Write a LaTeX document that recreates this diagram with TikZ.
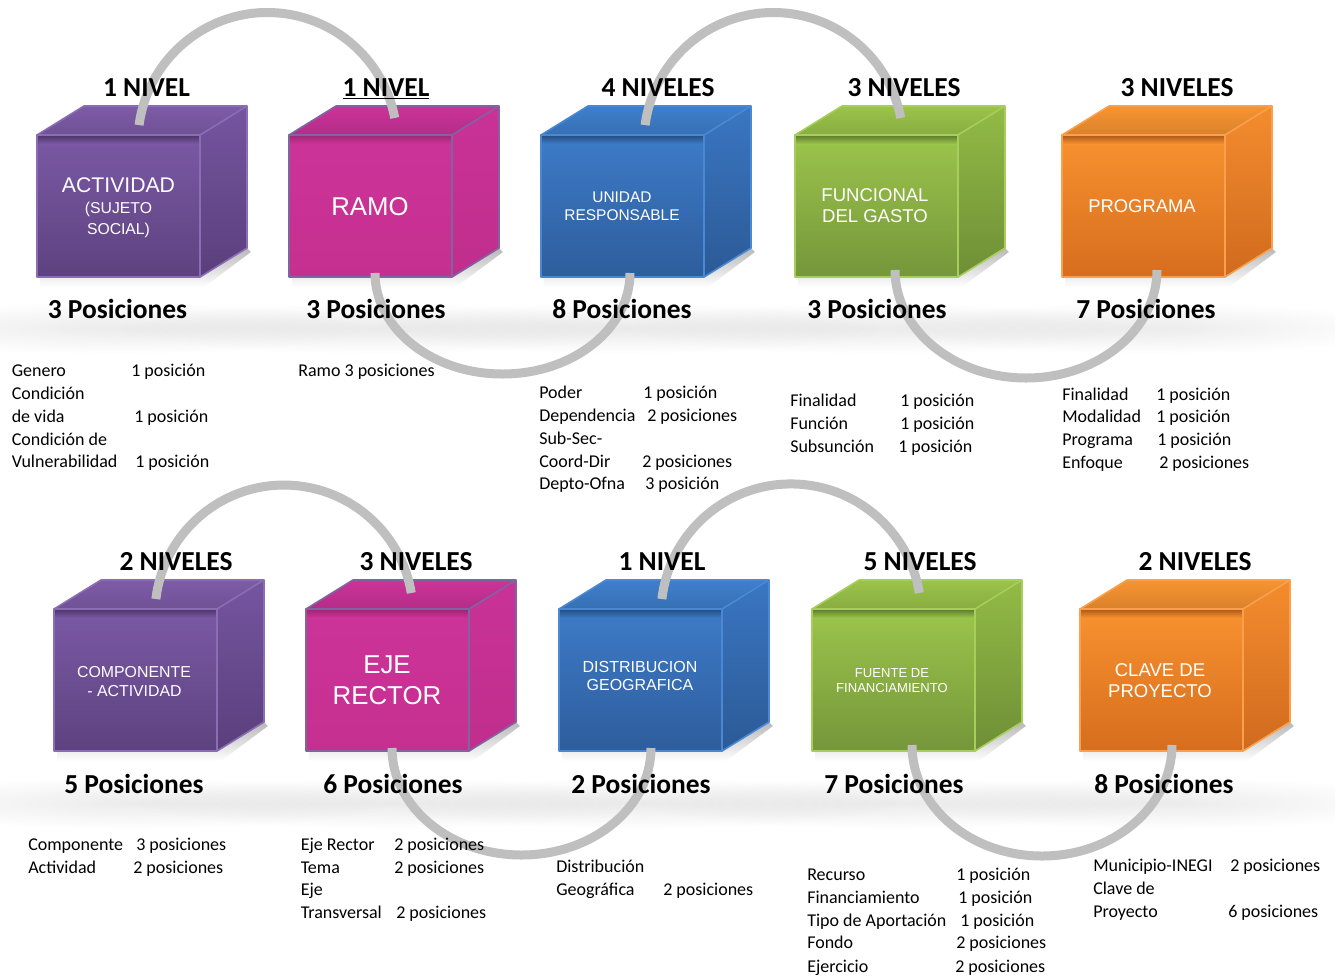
\documentclass[tikz,border=0pt]{standalone}
\usepackage{fontspec}
\setmainfont{Carlito}
\newfontfamily\arialf{Liberation Sans}
\usetikzlibrary{fadings}
\definecolor{linkgray}{HTML}{BFBFBF}
% purple
\definecolor{puT}{HTML}{7E5CA8}\definecolor{puF1}{HTML}{7B59A5}\definecolor{puF2}{HTML}{5D427F}
\definecolor{puS1}{HTML}{7555A0}\definecolor{puS2}{HTML}{5A3F7C}\definecolor{puE}{HTML}{8B6DB5}
% magenta
\definecolor{maT}{HTML}{CC3399}\definecolor{maF1}{HTML}{CD3399}\definecolor{maF2}{HTML}{C5308F}
\definecolor{maS1}{HTML}{C93297}\definecolor{maS2}{HTML}{C02E8C}\definecolor{maE}{HTML}{8064A2}
% blue
\definecolor{blT}{HTML}{3E7FCC}\definecolor{blF1}{HTML}{3D7BC8}\definecolor{blF2}{HTML}{2E5D9C}
\definecolor{blS1}{HTML}{3A76C2}\definecolor{blS2}{HTML}{2C5A96}\definecolor{blE}{HTML}{4A88D4}
% green
\definecolor{grT}{HTML}{9BC44A}\definecolor{grF1}{HTML}{9CC54C}\definecolor{grF2}{HTML}{75963A}
\definecolor{grS1}{HTML}{92BB46}\definecolor{grS2}{HTML}{6F8E36}\definecolor{grE}{HTML}{A6CE5A}
% orange
\definecolor{orT}{HTML}{F79431}\definecolor{orF1}{HTML}{F8922F}\definecolor{orF2}{HTML}{D66D1E}
\definecolor{orS1}{HTML}{F48C2E}\definecolor{orS2}{HTML}{D06A1E}\definecolor{orE}{HTML}{FAA04C}
\tikzfading[name=glowfade, inner color=transparent!0, outer color=transparent!100]
% cube: #1 = x of front-left, #2 = y (down) of front-top, #3 = colour prefix
\newcommand\mycube[3]{%
  \fill[black,opacity=.28,path fading=south] (#1+3,-#2-142) -- (#1+163,-#2-142) -- (#1+210,-#2-113)
     -- (#1+214,-#2-117) -- (#1+167,-#2-152) -- (#1+3,-#2-152) -- cycle;
  \shade[top color=#3F1,bottom color=#3F2] (#1,-#2) rectangle (#1+163,-#2-142);
  \shade[top color=#3F2!80!black,bottom color=#3F1] (#1,-#2) rectangle (#1+163,-#2-9);
  \shade[top color=#3S1,bottom color=#3S2] (#1+163,-#2) -- (#1+210,-#2+29) -- (#1+210,-#2-113) -- (#1+163,-#2-142) -- cycle;
  \shade[top color=#3T,bottom color=#3T!88!black] (#1,-#2) -- (#1+47,-#2+29) -- (#1+210,-#2+29) -- (#1+163,-#2) -- cycle;
  \draw[#3E,line width=1.2pt,line join=round] (#1,-#2) rectangle (#1+163,-#2-142);
  \draw[#3E,line width=1.2pt,line join=round] (#1,-#2) -- (#1+47,-#2+29) -- (#1+210,-#2+29) -- (#1+210,-#2-113) -- (#1+163,-#2-142);
  \draw[#3E,line width=1.2pt] (#1+163,-#2) -- (#1+210,-#2+29);
}
\newcommand\bt[4]{\node[body] (#1) at (#2,-#3) {#4};}
\begin{document}
\begin{tikzpicture}[x=0.75pt,y=0.75pt,
  link/.style={line width=6.75pt,draw=linkgray},
  body/.style={anchor=base west,inner sep=0pt,font=\fontsize{13.5}{16}\selectfont},
  lab/.style={anchor=base,inner sep=0pt,font=\bfseries\fontsize{20.6}{24}\selectfont},
  ct/.style={anchor=base,inner sep=0pt,text=white,font=\arialf\fontsize{#1}{#1}\selectfont}]
\useasboundingbox (0,0) rectangle (1335,-979);
\fill[white] (0,0) rectangle (1335,-979);
% glows below the position labels
\foreach \gx in {117,376,622,877,1146}{\fill[black,opacity=.08,path fading=glowfade] (\gx,-328) ellipse[x radius=260,y radius=26];}
\foreach \gx in {134,393,641,894,1164}{\fill[black,opacity=.08,path fading=glowfade] (\gx,-803) ellipse[x radius=260,y radius=26];}
% cubes
\mycube{37}{135}{pu}
\mycube{289}{135}{ma}
\mycube{541}{135}{bl}
\mycube{795}{135}{gr}
\mycube{1062}{135}{or}
\mycube{54}{609}{pu}
\mycube{306}{609}{ma}
\mycube{559}{609}{bl}
\mycube{812}{609}{gr}
\mycube{1080}{609}{or}
% connectors
\coordinate (a1) at (139.1,-125.1);
\draw[link] (a1) arc[start angle=172.5,end angle=10.7,radius=129.5];
\coordinate (b1) at (375,-273);
\draw[link] (b1) arc[start angle=180,end angle=360,x radius=127.5,y radius=101];
\coordinate (a2) at (645.1,-125.1);
\draw[link] (a2) arc[start angle=172.5,end angle=10.7,radius=129.5];
\coordinate (b2) at (895,-270);
\draw[link] (b2) arc[start angle=180,end angle=360,x radius=131,y radius=108];
\coordinate (d1) at (155.9,-599);
\draw[link] (d1) arc[start angle=173.3,end angle=9.4,radius=129];
\coordinate (e1) at (392,-748);
\draw[link] (e1) arc[start angle=180,end angle=360,x radius=129.5,y radius=107];
\coordinate (d2) at (661.9,-599);
\draw[link] (d2) arc[start angle=173.4,end angle=9.3,radius=130];
\coordinate (e2) at (912,-745);
\draw[link] (e2) arc[start angle=180,end angle=360,x radius=130,y radius=111];
% level labels
\node[lab] (n1) at (146.5,-96) {1 NIVEL};
\node[lab] (n2) at (386,-96) {\underline{1 NIVEL}};
\node[lab] (n3) at (658,-96) {4 NIVELES};
\node[lab] (n4) at (904,-96) {3 NIVELES};
\node[lab] (n5) at (1177,-96) {3 NIVELES};
\node[lab] (n6) at (176,-570) {2 NIVELES};
\node[lab] (n7) at (416,-570) {3 NIVELES};
\node[lab] (n8) at (662,-570) {1 NIVEL};
\node[lab] (n9) at (920,-570) {5 NIVELES};
\node[lab] (n10) at (1195,-570) {2 NIVELES};
\node[lab] (p1) at (117.5,-318) {3 Posiciones};
\node[lab] (p2) at (376,-318) {3 Posiciones};
\node[lab] (p3) at (622,-318) {8 Posiciones};
\node[lab] (p4) at (877,-318) {3 Posiciones};
\node[lab] (p5) at (1146,-318) {7 Posiciones};
\node[lab] (p6) at (134,-793) {5 Posiciones};
\node[lab] (p7) at (393,-793) {6 Posiciones};
\node[lab] (p8) at (641,-793) {2 Posiciones};
\node[lab] (p9) at (894,-793) {7 Posiciones};
\node[lab] (p10) at (1164,-793) {8 Posiciones};
% cube texts
\node[ct=15.9] (c1a) at (118.5,-192) {ACTIVIDAD};
\node[ct=11.8] (c1b) at (118.5,-213) {(SUJETO};
\node[ct=11.8] (c1c) at (118.5,-234) {SOCIAL)};
\node[ct=19.3] (c2a) at (370,-215) {RAMO};
\node[ct=11.6] (c3a) at (622,-202) {UNIDAD};
\node[ct=11.6] (c3b) at (622,-220) {RESPONSABLE};
\node[ct=13.9] (c4a) at (875,-201) {FUNCIONAL};
\node[ct=13.9] (c4b) at (875,-222.5) {DEL GASTO};
\node[ct=13.8] (c5a) at (1142,-212) {PROGRAMA};
\node[ct=11.9] (c6a) at (134,-677) {COMPONENTE};
\node[ct=11.9] (c6b) at (134.5,-696) {- ACTIVIDAD};
\node[ct=19.4] (c7a) at (387,-673) {EJE};
\node[ct=19.4] (c7b) at (387,-704) {RECTOR};
\node[ct=12] (c8a) at (640,-672) {DISTRIBUCION};
\node[ct=12] (c8b) at (640,-690) {GEOGRAFICA};
\node[ct=9.8] (c9a) at (892,-677) {FUENTE DE};
\node[ct=9.8] (c9b) at (892,-692) {FINANCIAMIENTO};
\node[ct=13.9] (c10a) at (1160,-676) {CLAVE DE};
\node[ct=13.9] (c10b) at (1160,-697) {PROYECTO};
% detail texts, top row
\bt{g1a}{11.5}{376}{Genero}\bt{g1av}{131}{376}{1 posición}
\bt{g1b}{11.5}{399}{Condición}
\bt{g1c}{11.5}{422}{de vida}\bt{g1cv}{134}{422}{1 posición}
\bt{g1d}{11.5}{445}{Condición de}
\bt{g1e}{11.5}{467}{Vulnerabilidad}\bt{g1ev}{135}{467}{1 posición}
\bt{g2a}{298}{376}{Ramo 3 posiciones}
\bt{g3a}{539}{398}{Poder}\bt{g3av}{643}{398}{1 posición}
\bt{g3b}{539}{421}{Dependencia}\bt{g3bv}{647}{421}{2 posiciones}
\bt{g3c}{539}{444}{Sub-Sec-}
\bt{g3d}{539}{467}{Coord-Dir}\bt{g3dv}{642}{467}{2 posiciones}
\bt{g3e}{539}{489}{Depto-Ofna}\bt{g3ev}{645}{489}{3 posición}
\bt{g4a}{790}{406}{Finalidad}\bt{g4av}{900}{406}{1 posición}
\bt{g4b}{790}{429}{Función}\bt{g4bv}{900}{429}{1 posición}
\bt{g4c}{790}{452}{Subsunción}\bt{g4cv}{898}{452}{1 posición}
\bt{g5a}{1062}{400}{Finalidad}\bt{g5av}{1156}{400}{1 posición}
\bt{g5b}{1062}{422}{Modalidad}\bt{g5bv}{1156}{422}{1 posición}
\bt{g5c}{1062}{445}{Programa}\bt{g5cv}{1157}{445}{1 posición}
\bt{g5d}{1062}{468}{Enfoque}\bt{g5dv}{1159}{468}{2 posiciones}
% detail texts, bottom row
\bt{h1a}{28}{850}{Componente}\bt{h1av}{136}{850}{3 posiciones}
\bt{h1b}{28}{873}{Actividad}\bt{h1bv}{133}{873}{2 posiciones}
\bt{h2a}{300.5}{850}{Eje Rector}\bt{h2av}{394}{850}{2 posiciones}
\bt{h2b}{300.5}{873}{Tema}\bt{h2bv}{394}{873}{2 posiciones}
\bt{h2c}{300.5}{895}{Eje}
\bt{h2d}{300.5}{918}{Transversal}\bt{h2dv}{396}{918}{2 posiciones}
\bt{h3a}{556}{872}{Distribución}
\bt{h3b}{556}{895}{Geográfica}\bt{h3bv}{663}{895}{2 posiciones}
\bt{h4a}{807}{880}{Recurso}\bt{h4av}{956}{880}{1 posición}
\bt{h4b}{807}{903}{Financiamiento}\bt{h4bv}{958}{903}{1 posición}
\bt{h4c}{807}{926}{Tipo de Aportación}\bt{h4cv}{960}{926}{1 posición}
\bt{h4d}{807}{948}{Fondo}\bt{h4dv}{956}{948}{2 posiciones}
\bt{h4e}{807}{972}{Ejercicio}\bt{h4ev}{955}{972}{2 posiciones}
\bt{h5a}{1093}{871}{Municipio-INEGI}\bt{h5av}{1230}{871}{2 posiciones}
\bt{h5b}{1093}{894}{Clave de}
\bt{h5c}{1093}{917}{Proyecto}\bt{h5cv}{1228}{917}{6 posiciones}
\end{tikzpicture}
\end{document}
